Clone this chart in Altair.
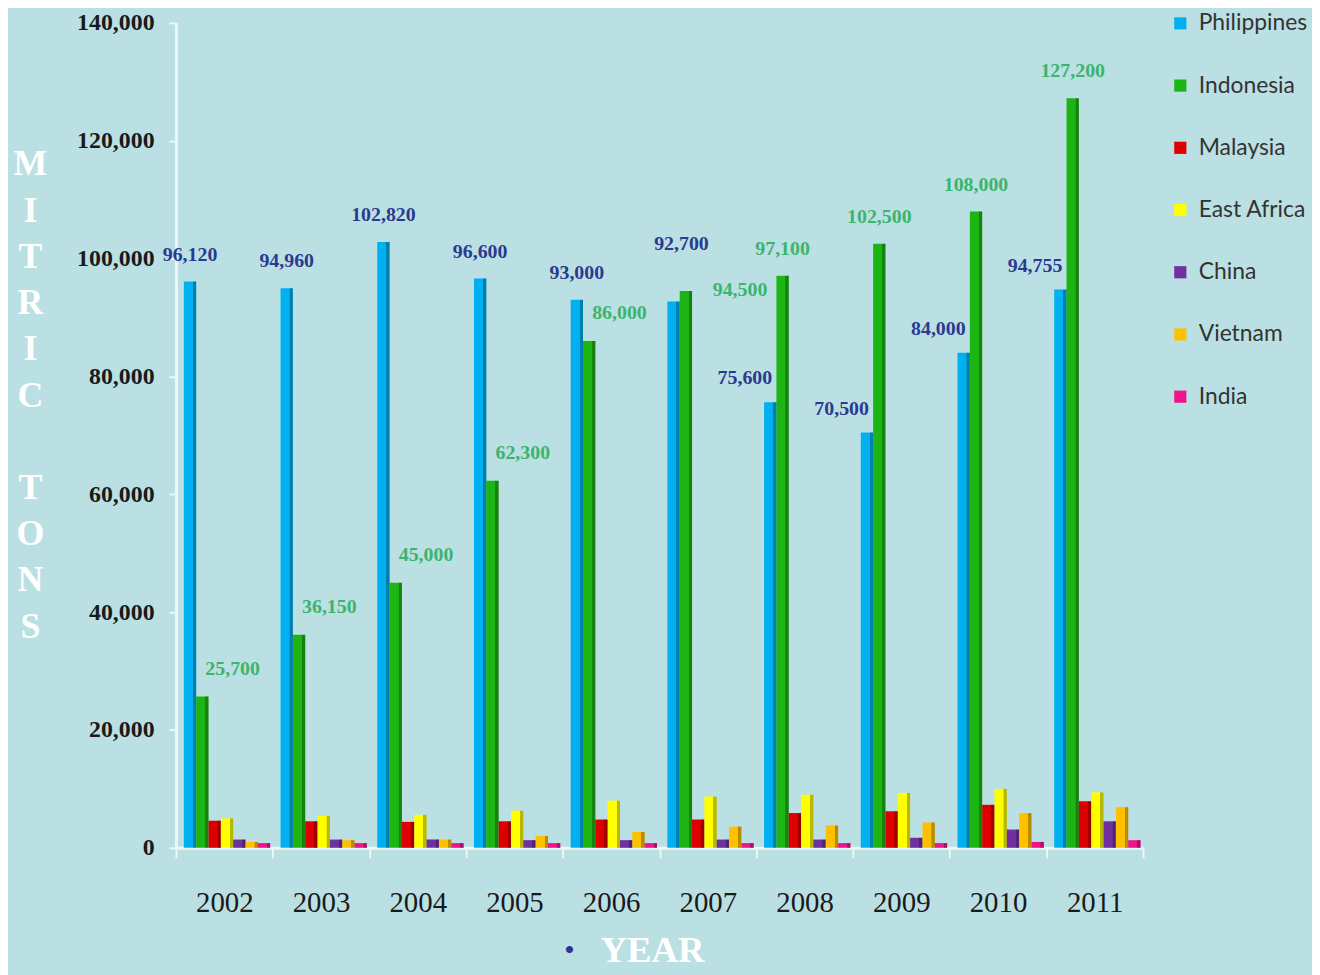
import altair as alt
import pandas as pd

years = [2002, 2003, 2004, 2005, 2006, 2007, 2008, 2009, 2010, 2011]
series = ["Philippines", "Indonesia", "Malaysia", "East Africa", "China", "Vietnam", "India"]
colors = ["#00b0f0", "#1db514", "#dd0000", "#ffff00", "#7030a0", "#ffc000", "#f0148c"]

philippines = [96120, 94960, 102820, 96600, 93000, 92700, 75600, 70500, 84000, 94755]
indonesia = [25700, 36150, 45000, 62300, 86000, 94500, 97100, 102500, 108000, 127200]
malaysia = [4600, 4500, 4400, 4500, 4800, 4800, 5900, 6200, 7300, 7900]
east_africa = [5000, 5400, 5600, 6300, 8000, 8700, 9000, 9300, 10000, 9400]
china = [1400, 1400, 1400, 1300, 1300, 1400, 1400, 1700, 3100, 4500]
vietnam = [1000, 1300, 1400, 2000, 2700, 3600, 3800, 4300, 5900, 6900]
india = [800, 800, 800, 800, 800, 800, 800, 800, 1000, 1300]

values = [philippines, indonesia, malaysia, east_africa, china, vietnam, india]

rows = []
for s, vals in zip(series, values):
    for y, v in zip(years, vals):
        rows.append({"year": y, "series": s, "value": v})
df = pd.DataFrame(rows)

SERIF = "Liberation Serif"

x_enc = alt.X(
    "year:O",
    scale=alt.Scale(paddingInner=0, paddingOuter=0),
    axis=alt.Axis(
        title="YEAR",
        titleFont=SERIF, titleFontSize=37, titleFontWeight="bold", titleColor="white",
        titleX=479, titleY=103, titleBaseline="middle", titleAnchor="start", titleAlign="center",
        labelFont=SERIF, labelFontSize=29, labelColor="#1a1a1a", labelAngle=0,
        labelPadding=31, tickSize=10, tickColor="#eef7f8", tickWidth=2,
        tickBand="extent", domainColor="#eef7f8", domainWidth=3,
    ),
)
xoff_enc = alt.XOffset(
    "series:N",
    scale=alt.Scale(domain=series, paddingInner=0, paddingOuter=0.42, align=0.76),
)
y_enc = alt.Y(
    "value:Q",
    scale=alt.Scale(domain=[0, 140000], nice=False),
    axis=alt.Axis(
        values=[0, 20000, 40000, 60000, 80000, 100000, 120000, 140000],
        format=",.0f", grid=False,
        title=["M", "I", "T", "R", "I", "C", "\u2800", "T", "O", "N", "S"],
        titleFont=SERIF, titleFontSize=36, titleFontWeight="bold", titleColor="white",
        titleAngle=0, titleX=-147, titleY=125, titleAlign="center", titleBaseline="top",
        titleLineHeight=46.5,
        labelFont=SERIF, labelFontSize=24, labelFontWeight="bold", labelColor="#1a1a1a",
        labelPadding=15, tickSize=7, tickColor="#eef7f8", tickWidth=2,
        domainColor="#eef7f8", domainWidth=3,
    ),
)

base = alt.Chart(df).encode(x=x_enc, xOffset=xoff_enc, y=y_enc)

bars = base.mark_bar(opacity=1).encode(
    color=alt.Color(
        "series:N",
        scale=alt.Scale(domain=series, range=colors),
        legend=alt.Legend(
            title=None, orient="none", legendX=999, legendY=-11,
            symbolType="square", symbolSize=150, symbolStrokeWidth=0, symbolOpacity=1,
            labelFont="Lato", labelFontSize=23, labelColor="#333333",
            labelOffset=7, rowPadding=38.6, padding=0,
        ),
    )
)

shade = base.mark_bar(
    fill=alt.LinearGradient(
        gradient="linear",
        stops=[
            alt.GradientStop(color="rgba(0,0,0,0)", offset=0),
            alt.GradientStop(color="rgba(0,0,0,0)", offset=0.72),
            alt.GradientStop(color="rgba(0,0,0,0.28)", offset=0.74),
            alt.GradientStop(color="rgba(0,0,0,0.28)", offset=1),
        ],
        x1=0, x2=1, y1=0, y2=0,
    )
)

txt = alt.Text("value:Q", format=",")
lab_font = dict(font=SERIF, fontSize=20, fontWeight="bold")
PH = "#2a3a8f"
ID = "#3cb46e"

phil_a = base.transform_filter("datum.series == 'Philippines' && datum.year <= 2006").mark_text(
    color=PH, align="center", baseline="alphabetic", dy=-21, **lab_font
).encode(text=txt)
phil_c = base.transform_filter("datum.series == 'Philippines' && datum.year == 2007").mark_text(
    color=PH, align="center", baseline="alphabetic", dx=8, dy=-52, **lab_font
).encode(text=txt)
phil_b = base.transform_filter("datum.series == 'Philippines' && datum.year >= 2008").mark_text(
    color=PH, align="right", baseline="alphabetic", dx=2, dy=-18, **lab_font
).encode(text=txt)
indo_a = base.transform_filter("datum.series == 'Indonesia' && datum.year <= 2006").mark_text(
    color=ID, align="left", baseline="alphabetic", dx=3, dy=-22, **lab_font
).encode(text=txt)
indo_c = base.transform_filter("datum.series == 'Indonesia' && datum.year == 2007").mark_text(
    color=ID, align="left", baseline="alphabetic", dx=27, dy=5, **lab_font
).encode(text=txt)
indo_b = base.transform_filter("datum.series == 'Indonesia' && datum.year >= 2008").mark_text(
    color=ID, align="center", baseline="alphabetic", dy=-21, **lab_font
).encode(text=txt)

bullet = alt.Chart(pd.DataFrame({"t": ["•"]})).mark_text(
    color="#2e3192", fontSize=30, font=SERIF, align="center", baseline="middle"
).encode(x=alt.value(396), y=alt.value(934), text="t:N")

chart = alt.layer(bars, shade, phil_a, phil_c, phil_b, indo_a, indo_c, indo_b, bullet).properties(
    width=973, height=830,
    background="#bbe0e3",
    autosize=alt.AutoSizeParams(type="none"),
    padding={"left": 169, "top": 12, "right": 170, "bottom": 125},
).configure_view(stroke=None)

chart.save("out.html", embed_options={"renderer": "svg", "actions": False})
